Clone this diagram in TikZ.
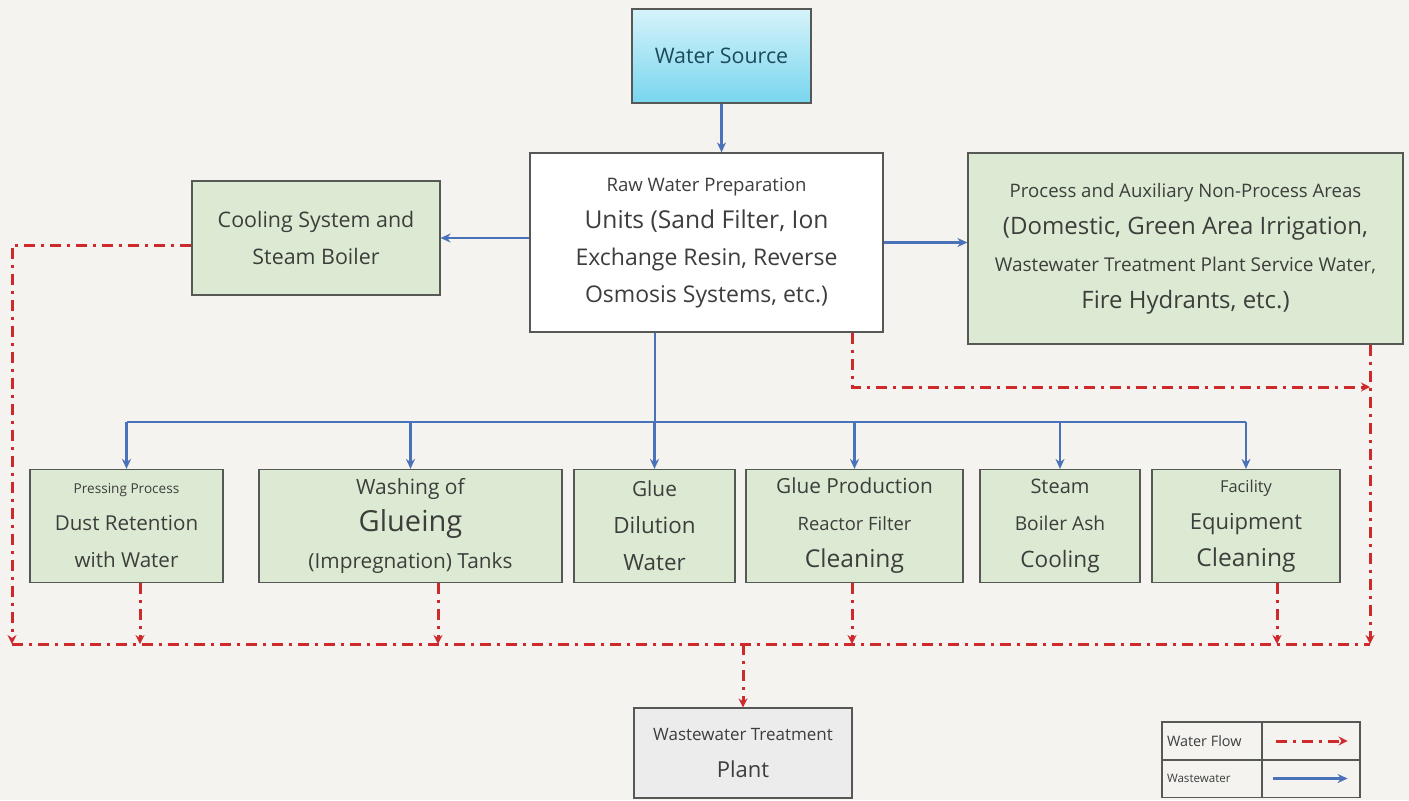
\documentclass[tikz,border=0pt]{standalone}
\usepackage{fontspec}
\setmainfont{Open Sans}
\usetikzlibrary{arrows.meta}

\definecolor{paper}{RGB}{244,243,239}
\definecolor{boxline}{RGB}{85,88,85}
\definecolor{areagreen}{RGB}{221,234,211}
\definecolor{plantgray}{RGB}{236,236,236}
\definecolor{srctop}{RGB}{214,243,251}
\definecolor{srcbot}{RGB}{120,214,238}
\definecolor{srctext}{RGB}{28,76,90}
\definecolor{inktext}{RGB}{60,62,60}
\definecolor{supplyblue}{RGB}{74,114,184}
\definecolor{wastered}{RGB}{206,42,44}

% one line spacing for every size
\newcommand\fsz[1]{\fontsize{#1}{18.5}\selectfont}

\begin{document}
\begin{tikzpicture}[
  x=0.5pt, y=-0.5pt,
  every node/.style={align=center, text=inktext, inner sep=0pt, font=\fsz{10}},
  box/.style={draw=boxline, line width=0.6pt},
  source/.style={box, top color=srctop, bottom color=srcbot},
  unit/.style={box, fill=white},
  area/.style={box, fill=areagreen},
  plant/.style={box, fill=plantgray},
  supplyline/.style={draw=supplyblue, line width=1.3pt},
  supply/.style={supplyline, -{Stealth[length=5pt, width=4.5pt]}},
  wasteline/.style={draw=wastered, line width=1.5pt, dash pattern=on 5.5pt off 3pt on 1.5pt off 3pt},
  waste/.style={wasteline, -{Stealth[length=4.5pt, width=4.5pt]}},
  legendcell/.style={draw=boxline, line width=0.6pt, minimum height=19pt}]

  % page
  \fill[paper] (0,0) rectangle (1409,800);
  \useasboundingbox (0,0) rectangle (1409,800);

  % top part
  \node[source, minimum width=89.5pt, minimum height=47pt] (source) at (721.5,56)
    {\color{srctext}\fsz{10.7}Water Source};
  \node[unit, minimum width=176.5pt, minimum height=89.5pt] (raw) at (706.5,242.5)
    {\fsz{9.3}Raw Water Preparation\\ \fsz{12.3}Units (Sand Filter, Ion\\
     \fsz{11.5}Exchange Resin, Reverse\\ \fsz{11.5}Osmosis Systems, etc.)};
  \node[area, minimum width=124pt, minimum height=57pt] (cool) at (316,238)
    {\fsz{10.7}Cooling System and\\ \fsz{10.7}Steam Boiler};
  \node[area, minimum width=217.5pt, minimum height=95.5pt] (proc) at (1185.5,248.5)
    {\fsz{9.3}Process and Auxiliary Non-Process Areas\\
     \fsz{12}(Domestic, Green Area Irrigation,\\
     \fsz{9.5}Wastewater Treatment Plant Service Water,\\
     \fsz{12}Fire Hydrants, etc.)};

  % consumers
  \node[area, minimum width=96.5pt, minimum height=56.5pt] (press) at (126.5,526)
    {\fsz{6.8}Pressing Process\\ \fsz{10.3}Dust Retention\\ \fsz{10.3}with Water};
  \node[area, minimum width=151.5pt, minimum height=56.5pt] (wash) at (410.5,526)
    {\fsz{10.5}Washing of\\ \fsz{14.5}Glueing\\ \fsz{10.4}(Impregnation) Tanks};
  \node[area, minimum width=80.5pt, minimum height=56.5pt] (dilute) at (654.5,526)
    {\fsz{10.4}Glue\\ \fsz{11.2}Dilution\\ \fsz{11.2}Water};
  \node[area, minimum width=108.5pt, minimum height=56.5pt] (reactor) at (854.5,526)
    {\fsz{10.4}Glue Production\\ \fsz{9.2}Reactor Filter\\ \fsz{12.3}Cleaning};
  \node[area, minimum width=80pt, minimum height=56.5pt] (ash) at (1060,526)
    {\fsz{10}Steam\\ \fsz{9.6}Boiler Ash\\ \fsz{11.3}Cooling};
  \node[area, minimum width=94pt, minimum height=56.5pt] (clean) at (1246,526)
    {\fsz{8.2}Facility\\ \fsz{11}Equipment\\ \fsz{12.3}Cleaning};

  \node[plant, minimum width=109pt, minimum height=45pt] (plant) at (743,753)
    {\fsz{8.5}Wastewater Treatment\\ \fsz{11}Plant};

  % water supply
  \coordinate (bus) at (655,422);
  \draw[supply] (source.south) -- (source.south |- raw.north);
  \draw[supply] (raw.west |- cool.east) -- (cool.east);
  \draw[supply] (raw.east) -- (raw.east -| proc.west);
  \draw[supplyline] (bus |- raw.south) -- (bus);
  \draw[supplyline] (press.north |- bus) -- (clean.north |- bus);
  \foreach \n in {press, wash, dilute, reactor, ash, clean}
    \draw[supply] (\n.north |- bus) -- (\n.north);

  % wastewater collection
  \coordinate (sumL) at (12,644);
  \coordinate (sumR) at (1370,644);
  \coordinate (rawout) at (852,387);
  \draw[waste] ([yshift=-3.5pt]cool.west) -| (sumL);
  \draw[waste] (rawout |- raw.south) -- (rawout) -- (rawout -| sumR);
  \draw[waste] (proc.south -| sumR) -- (sumR);
  \draw[wasteline] (sumL) -- (sumR);
  \foreach \n/\x in {press/140, wash/438, reactor/852, clean/1277}
    \draw[waste] (\x,0 |- \n.south) -- (\x,0 |- sumL);
  \draw[waste] (sumL -| plant.north) -- (plant.north);

  % legend
  \node[legendcell, minimum width=50pt, text width=45pt, align=flush left] (lgA) at (1212,741)
    {\fsz{7.2}Water Flow};
  \node[legendcell, minimum width=50pt, text width=45pt, align=flush left] (lgB) at (1212,778.5)
    {\fsz{5.8}Wastewater};
  \node[legendcell, minimum width=49pt] (lgC) at (1311,741) {};
  \node[legendcell, minimum width=49pt] (lgD) at (1311,778.5) {};
  \draw[waste, shorten <=7.5pt, shorten >=6.5pt] (lgC.west) -- (lgC.east);
  \draw[supply, shorten <=6pt, shorten >=6.5pt] (lgD.west) -- (lgD.east);

\end{tikzpicture}
\end{document}
